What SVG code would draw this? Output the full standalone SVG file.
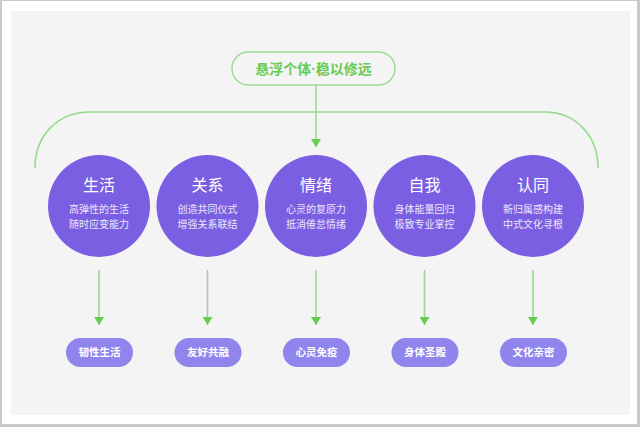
<svg xmlns="http://www.w3.org/2000/svg" width="640" height="427" viewBox="0 0 640 427">
<defs>
<style>
.frame{fill:#ffffff;stroke:none}
.panel{fill:#f4f4f4}
.conn{stroke:#93d98a;stroke-width:1.5;fill:none}
.head{fill:#66cc4d}
.circ{fill:#7a5fe2}
.pill{fill:#9085ec}
.top{fill:#f5f5f5;stroke:#9bdc92;stroke-width:1.5}
.tt{font-family:"Noto Sans CJK SC","Noto Sans",sans-serif;font-size:14px;font-weight:700;fill:#6acb55;text-anchor:middle}
.dot{font-family:"Liberation Sans",sans-serif}
.h{font-family:"Noto Sans CJK SC","Noto Sans",sans-serif;font-size:16px;fill:#ffffff;text-anchor:middle}
.s{font-family:"Noto Sans CJK SC","Noto Sans",sans-serif;font-size:10px;fill:#ece8fb;text-anchor:middle}
.p{font-family:"Noto Sans CJK SC","Noto Sans",sans-serif;font-size:10.5px;font-weight:700;fill:#ffffff;text-anchor:middle}
</style>
<marker id="arr" viewBox="0 0 8 10" refX="8" refY="5" markerWidth="8" markerHeight="10" markerUnits="userSpaceOnUse" orient="auto">
<path d="M0,0 L8,5 L0,10 Z" class="head"/>
</marker>
</defs>
<rect x="0" y="0" width="640" height="427" fill="#c9c9c9"/>
<rect x="2" y="1" width="635" height="423" class="frame"/>
<rect x="11" y="11" width="619" height="404" class="panel"/>

<g id="connectors">
<path class="conn" d="M35,168 C35,135 58,112 90,112 L545,112 C575,112 598,135 598,168"/>
<line class="conn" x1="316" y1="85" x2="316" y2="147" marker-end="url(#arr)"/>
<line class="conn" x1="99" y1="270" x2="99" y2="325" marker-end="url(#arr)"/>
<line class="conn" x1="207.5" y1="270" x2="207.5" y2="325" marker-end="url(#arr)"/>
<line class="conn" x1="316" y1="270" x2="316" y2="325" marker-end="url(#arr)"/>
<line class="conn" x1="424.5" y1="270" x2="424.5" y2="325" marker-end="url(#arr)"/>
<line class="conn" x1="533" y1="270" x2="533" y2="325" marker-end="url(#arr)"/>
</g>

<g id="root">
<rect class="top" x="232" y="52" width="163" height="33" rx="16.5"/>
<text class="tt" x="313.5" y="73.5">悬浮个体<tspan class="dot">·</tspan>稳以修远</text>
</g>

<g id="n-life">
<circle class="circ" cx="99" cy="206" r="51"/>
<text class="h" x="99" y="190.5">生活</text>
<text class="s" x="99" y="213">高弹性的生活</text>
<text class="s" x="99" y="227.5">随时应变能力</text>
</g>
<g id="n-rel">
<circle class="circ" cx="207.5" cy="206" r="51"/>
<text class="h" x="207.5" y="190.5">关系</text>
<text class="s" x="207.5" y="213">创造共同仪式</text>
<text class="s" x="207.5" y="227.5">增强关系联结</text>
</g>
<g id="n-emo">
<circle class="circ" cx="316" cy="206" r="51"/>
<text class="h" x="316" y="190.5">情绪</text>
<text class="s" x="316" y="213">心灵的复原力</text>
<text class="s" x="316" y="227.5">抵消倦怠情绪</text>
</g>
<g id="n-self">
<circle class="circ" cx="424.5" cy="206" r="51"/>
<text class="h" x="424.5" y="190.5">自我</text>
<text class="s" x="424.5" y="213">身体能量回归</text>
<text class="s" x="424.5" y="227.5">极致专业掌控</text>
</g>
<g id="n-id">
<circle class="circ" cx="533" cy="206" r="51"/>
<text class="h" x="533" y="190.5">认同</text>
<text class="s" x="533" y="213">新归属感构建</text>
<text class="s" x="533" y="227.5">中式文化寻根</text>
</g>

<g id="o-life">
<rect class="pill" x="66" y="338" width="67" height="29" rx="14.5"/>
<text class="p" x="99.5" y="356">韧性生活</text>
</g>
<g id="o-rel">
<rect class="pill" x="174.5" y="338" width="67" height="29" rx="14.5"/>
<text class="p" x="208" y="356">友好共融</text>
</g>
<g id="o-emo">
<rect class="pill" x="283" y="338" width="67" height="29" rx="14.5"/>
<text class="p" x="316.5" y="356">心灵免疫</text>
</g>
<g id="o-self">
<rect class="pill" x="391.5" y="338" width="67" height="29" rx="14.5"/>
<text class="p" x="425" y="356">身体圣殿</text>
</g>
<g id="o-id">
<rect class="pill" x="500" y="338" width="67" height="29" rx="14.5"/>
<text class="p" x="533.5" y="356">文化亲密</text>
</g>
</svg>
